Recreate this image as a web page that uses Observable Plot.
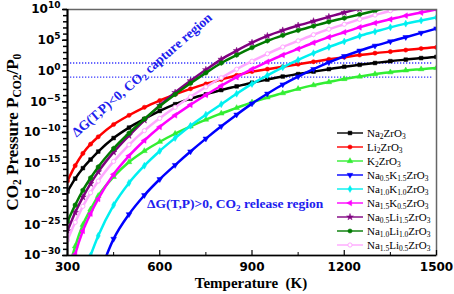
<!DOCTYPE html>
<html><head><meta charset="utf-8">
<script src="https://cdn.jsdelivr.net/npm/d3@7"></script>
<script src="https://cdn.jsdelivr.net/npm/@observablehq/plot@0.6"></script>
<style>
body{margin:0;background:#fff;}
#wrap{position:relative;width:454px;height:294px;overflow:hidden;}
#wrap svg{display:block;}
.ov{position:absolute;white-space:nowrap;line-height:1;}
.ov sub{font-size:68%;vertical-align:-0.28em;line-height:0;}
.ttl{font-family:"Liberation Serif",serif;font-weight:bold;color:#000;}
.ann{font-family:"Liberation Serif",serif;font-weight:bold;color:#2020ee;font-size:13.5px;}
.leg{font-family:"Liberation Serif",serif;font-size:11px;color:#000;display:flex;align-items:center;}
</style></head><body><div id="wrap"></div>
<script>
// Temperatures (K) and log10(P_CO2/P0)
const temperature = [300,325,350,375,400,450,500,550,600,650,700,750,800,850,900,950,1000,1050,1100,1150,1200,1250,1300,1350,1400,1450,1500];
const logNa2ZrO3     = [-19.6,-17.5,-15.8,-14.4,-13.1,-10.9,-9.2,-7.8,-6.5,-5.4,-4.5,-3.8,-3.1,-2.5,-1.9,-1.4,-0.9,-0.5,-0.1,0.3,0.7,1.0,1.3,1.6,1.85,2.1,2.3];
const logLi2ZrO3     = [-17.9,-15.4,-13.4,-11.9,-10.7,-8.7,-7.2,-5.9,-4.8,-3.8,-2.9,-2.1,-1.4,-0.7,-0.1,0.3,0.7,1.1,1.5,1.9,2.25,2.6,2.9,3.15,3.4,3.65,3.85];
const logK2ZrO3      = [-33,-28.5,-25.0,-22.5,-20.3,-17.2,-14.8,-13.0,-11.5,-10.2,-9.0,-7.9,-6.9,-6.0,-5.1,-4.3,-3.6,-2.9,-2.3,-1.8,-1.3,-0.9,-0.5,-0.2,0.1,0.3,0.5];
const logNa05K15ZrO3 = [null,null,null,null,-33.5,-27.3,-23.3,-20.2,-17.6,-15.3,-13.1,-11.0,-9.0,-7.1,-5.3,-3.7,-2.2,-0.9,0.3,1.4,2.4,3.3,4.1,4.8,5.5,6.2,6.9];
const logNa10K10ZrO3 = [null,null,-33.5,-30.0,-26.8,-21.8,-18.2,-15.4,-13.0,-10.9,-8.9,-7.1,-5.4,-3.7,-2.1,-0.7,0.6,1.8,2.9,3.9,4.8,5.7,6.4,7.1,7.7,8.2,8.7];
const logNa15K05ZrO3 = [-35,-29.8,-26.0,-23.2,-20.8,-16.8,-13.8,-11.3,-9.1,-7.2,-5.5,-3.9,-2.4,-1.0,0.3,1.5,2.6,3.6,4.6,5.5,6.3,7.1,7.8,8.4,9.0,9.5,10.0];
const logNa05Li15ZrO3= [-26.0,-23.0,-20.5,-18.3,-16.4,-13.2,-10.5,-8.0,-5.6,-3.5,-1.6,0.2,1.9,3.3,4.6,5.7,6.6,7.4,8.1,8.8,9.5,10.1,null,null,null,null,null];
const logNa10Li10ZrO3= [-24.5,-21.8,-19.4,-17.4,-15.6,-12.6,-10.1,-7.8,-5.7,-3.8,-2.0,-0.3,1.3,2.6,3.8,4.9,5.8,6.6,7.3,8.0,8.6,9.2,9.8,10.4,null,null,null];
const logNa15Li05ZrO3= [-27.5,-24.6,-22.0,-19.8,-17.9,-14.7,-12.0,-9.7,-7.7,-5.9,-4.2,-2.6,-1.1,0.3,1.6,2.8,3.9,4.9,5.9,6.8,7.6,8.4,9.1,9.8,10.4,null,null];

const seriesNames = ["Na2ZrO3","Li2ZrO3","K2ZrO3","Na0.5K1.5ZrO3","Na1.0K1.0ZrO3","Na1.5K0.5ZrO3","Na0.5Li1.5ZrO3","Na1.0Li1.0ZrO3","Na1.5Li0.5ZrO3"];
const seriesLogs = [logNa2ZrO3,logLi2ZrO3,logK2ZrO3,logNa05K15ZrO3,logNa10K10ZrO3,logNa15K05ZrO3,logNa05Li15ZrO3,logNa10Li10ZrO3,logNa15Li05ZrO3];
const seriesColors = ["#000000","#ff0000","#33ee33","#0000ff","#00f0f0","#ff00ff","#800080","#007a00","#ffa8ff"];
const seriesSymbols = ["square","circle","triangle","triangle","diamond","triangle","star","hexagon","circle"];
const seriesRotate = [0,0,0,180,0,-90,0,0,0];
const seriesOpen = [false,false,false,false,false,false,false,false,true];

const yTickExponents = [10,5,0,-5,-10,-15,-20,-25,-30];
const xTicks = [300,600,900,1200,1500];
const xMinorTicks = [450,750,1050,1350];
const referenceLevels = [20, 0.1];
const yDomain = [1e-30, 1e10];
const xDomain = [300, 1500];

const fmtPow = v => "10|" + Math.round(Math.log10(v));

const decades = d3.range(-30, 11).map(e => 10 ** e);
const yTicks = yTickExponents.map(e => 10 ** e);

const W = 454, H = 294, mL = 67, mR = 18, mT = 9, mB = 39;
const plotH = H - mT - mB;

const marks = [
  Plot.ruleY(referenceLevels, {stroke:"#3a3aff", strokeWidth:1.3, strokeDasharray:"1.3 1.7", insetRight:3}),
];
seriesNames.forEach((name, i) => {
  const rows = [];
  temperature.forEach((T, j) => { const v = seriesLogs[i][j]; if (v != null) rows.push({T, P: 10 ** v}); });
  marks.push(Plot.line(rows, {x:"T", y:"P", stroke: seriesColors[i], strokeWidth: 2.5, curve:"monotone-x", clip:true}));
  marks.push(Plot.dot(rows, {x:"T", y:"P", symbol: seriesSymbols[i], rotate: seriesRotate[i], r: 2.1,
    fill: seriesOpen[i] ? "#fff" : seriesColors[i], stroke: seriesColors[i], strokeWidth: seriesOpen[i] ? 1 : 0.5, clip:true}));
});
marks.push(
  Plot.frame({stroke:"#666", strokeWidth:1.5}),
  Plot.ruleX([xDomain[0]], {stroke:"#000", strokeWidth:2}),
  Plot.ruleY([yDomain[0]], {stroke:"#000", strokeWidth:1.5}),
  Plot.tickX(xTicks, {x: d => d, stroke:"#000", strokeWidth:1.2, insetTop: plotH - 5}),
  Plot.tickX(xMinorTicks, {x: d => d, stroke:"#000", strokeWidth:1, insetTop: plotH - 3}),
  Plot.axisY(decades, {tickSize: 4, strokeWidth: 1.5, tickFormat: () => "", label: null}),
  Plot.axisY(yTicks, {tickSize: 5, strokeWidth: 1.5, tickPadding: 2, tickFormat: fmtPow, label: null,
    fontSize: 12, fontWeight: "bold", fontFamily: "DejaVu Sans"}),
  Plot.axisX(xTicks, {tickSize: 0, tickPadding: 7, tickFormat: d => String(d), label: null, fontSize: 12, fontWeight: "bold", fontFamily: "DejaVu Sans"})
);

const chart = Plot.plot({
  width: W, height: H, marginLeft: mL, marginRight: mR, marginTop: mT, marginBottom: mB,
  x: {domain: xDomain},
  y: {type: "log", domain: yDomain},
  style: {background: "transparent", color: "#000"},
  marks
});
// turn "10|e" tick labels into 10 with a raised exponent
d3.select(chart).selectAll("text").each(function() {
  const t = this.textContent;
  if (!t.includes("|")) return;
  const [base, exp] = t.split("|");
  const sel = d3.select(this);
  sel.text(null);
  sel.append("tspan").text(base);
  sel.append("tspan").attr("font-size", 9).attr("dy", "-0.55em").text(exp.replace("-", "\u2212"));
});
const wrap = document.getElementById("wrap");
wrap.appendChild(chart);

const subs = s => s.replace(/(\d+(\.\d+)?)/g, "<sub>$1</sub>");
function overlay(html, cls, css) {
  const d = document.createElement("div");
  d.className = "ov " + cls;
  d.innerHTML = html;
  Object.assign(d.style, css);
  wrap.appendChild(d);
  return d;
}
overlay("Temperature&nbsp; (K)", "ttl", {left:"251px", top:"283px", fontSize:"15px", transform:"translate(-50%,-50%)"});
overlay("CO<sub>2</sub> Pressure P<sub>CO2</sub>/P<sub>0</sub>", "ttl", {left:"12px", top:"132px", fontSize:"17px", transform:"translate(-50%,-50%) rotate(-90deg)"});
overlay("\u0394G(T,P)&lt;0, CO<sub>2</sub> capture region", "ann", {left:"142px", top:"75px", transform:"translate(-50%,-50%) rotate(-41deg)"});
overlay("\u0394G(T,P)&gt;0, CO<sub>2</sub> release region", "ann", {left:"147px", top:"197px"});

// legend
const legTop = 133, legStep = 14;
seriesNames.forEach((name, i) => {
  const row = overlay("", "leg", {left:"336px", top:(legTop + i * legStep - 6) + "px", height:"12px"});
  const sym = d3.symbol().type({square:d3.symbolSquare, circle:d3.symbolCircle, triangle:d3.symbolTriangle, diamond:d3.symbolDiamond, star:d3.symbolStar, hexagon:d3.symbolCircle}[seriesSymbols[i]]).size(14)();
  const fill = seriesOpen[i] ? "#fff" : seriesColors[i];
  row.innerHTML = `<svg width="28" height="12" style="margin-right:3px"><line x1="1" x2="27" y1="6" y2="6" stroke="${seriesColors[i]}" stroke-width="1.4"/><path d="${sym}" transform="translate(14,6) rotate(${seriesRotate[i]})" fill="${fill}" stroke="${seriesColors[i]}" stroke-width="${seriesOpen[i]?1:0.5}"/></svg><span>${subs(name)}</span>`;
});
</script>
</body></html>
